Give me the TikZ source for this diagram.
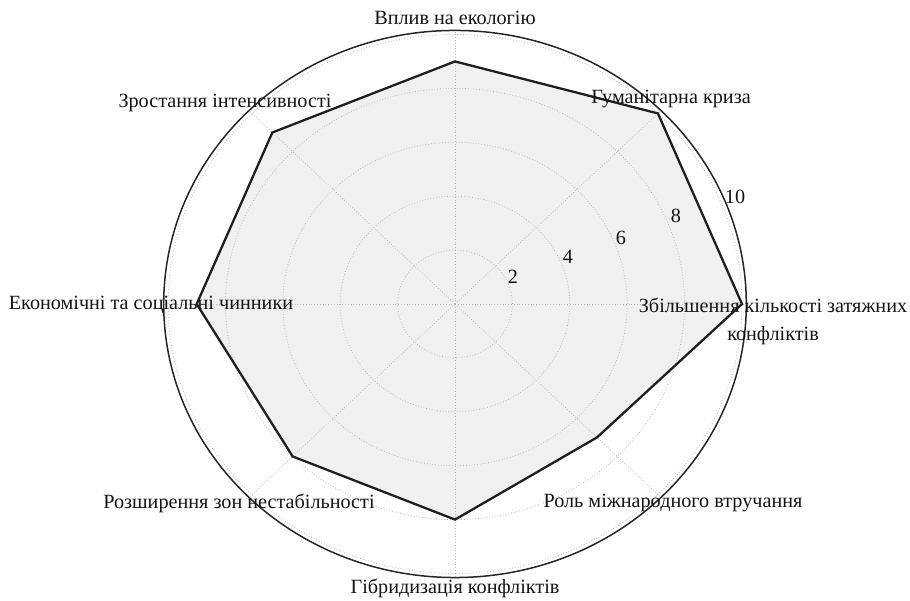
\documentclass[tikz,border=0pt]{standalone}
\usepackage{fontspec}
\setmainfont{Liberation Serif}
\begin{document}
\begin{tikzpicture}[x=1pt,y=1pt,
  lbl/.style={inner sep=0pt, font=\fontsize{20.2}{23}\selectfont, text=black!92},
  grid/.style={draw=black!28, line width=0.8pt, dotted},
  spine/.style={draw=black!85, line width=1.5pt},
  poly/.style={draw=black!88, line width=2.3pt, line join=miter}]
\useasboundingbox (0,0) rectangle (910,601);
\begin{scope}[shift={(455,297)}, x=28.7pt, y=26.95pt]
  \coordinate (p0) at (0:10);
  \coordinate (p1) at (45:10);
  \coordinate (p2) at (90:9);
  \coordinate (p3) at (135:9);
  \coordinate (p4) at (180:9);
  \coordinate (p5) at (225:8);
  \coordinate (p6) at (270:8);
  \coordinate (p7) at (315:7);
  \coordinate (c) at (0,0);
  \fill[black!6] (p0) -- (p1) -- (p2) -- (p3) -- (p4) -- (p5) -- (p6) -- (p7) -- cycle;
  \foreach \r in {2,4,6,8,10} {
    \draw[grid] (c) ellipse [x radius=\r, y radius=\r];
  }
  \foreach \a in {0,45,...,315} {
    \coordinate (s\a) at (\a:10.15);
    \draw[grid] (c) -- (s\a);
  }
  \draw[spine] (c) ellipse [x radius=10.15, y radius=10.15];
  \draw[poly] (p0) -- (p1) -- (p2) -- (p3) -- (p4) -- (p5) -- (p6) -- (p7) -- cycle;
\end{scope}
% axis labels
\node[lbl] (l0) at (773,296) {Збільшення кількості затяжних};
\node[lbl] (l0b) at (773,265) {конфліктів};
\node[lbl] (l1) at (671,502) {Гуманітарна криза};
\node[lbl] (l2) at (455,583) {Вплив на екологію};
\node[lbl] (l3) at (225,498) {Зростання інтенсивності};
\node[lbl] (l4) at (151,296) {Економічні та соціальні чинники};
\node[lbl] (l5) at (239,98) {Розширення зон нестабільності};
\node[lbl] (l6) at (455,13) {Гібридизація конфліктів};
\node[lbl] (l7) at (673,98) {Роль міжнародного втручання};
% radial tick labels
\node[lbl] (t2) at (513,324) {2};
\node[lbl] (t4) at (568,344) {4};
\node[lbl] (t6) at (621,363) {6};
\node[lbl] (t8) at (676,385) {8};
\node[lbl] (t10) at (735,404) {10};
\end{tikzpicture}
\end{document}
